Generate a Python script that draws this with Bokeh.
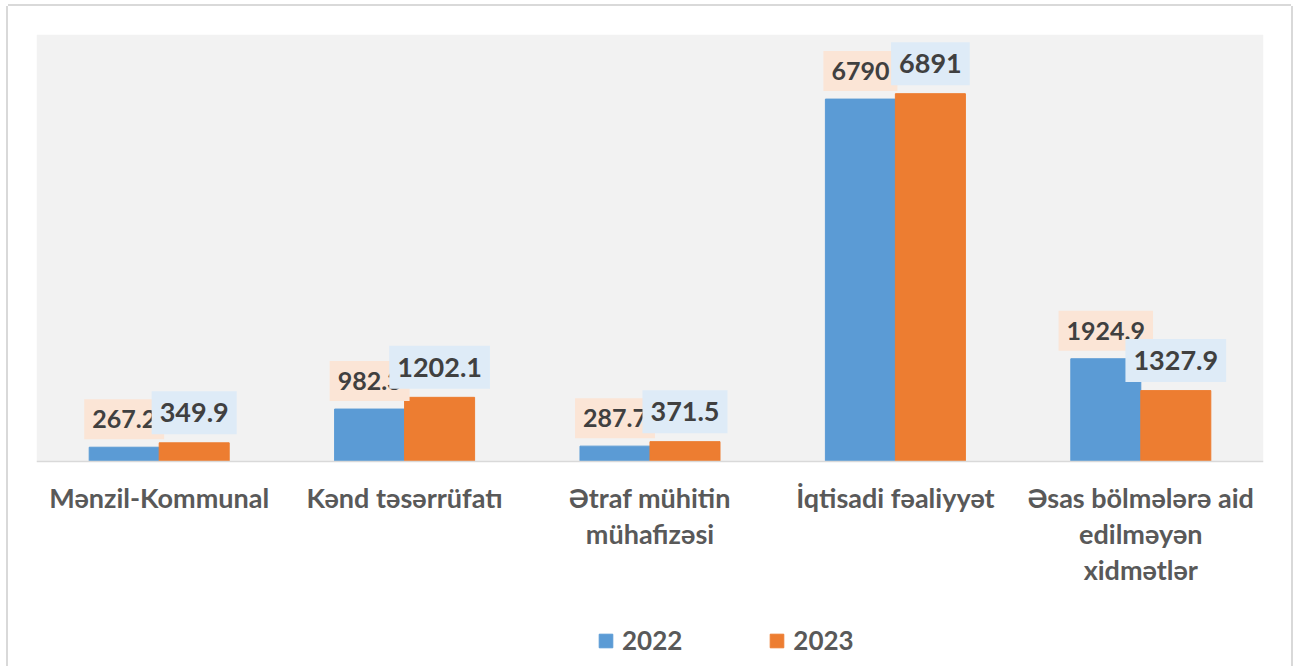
from bokeh.plotting import figure
from bokeh.models import (ColumnDataSource, FactorRange, Range1d, Legend, LegendItem,
                          BoxAnnotation)
from bokeh.core.properties import value
from bokeh.transform import dodge
from bokeh.embed import file_html
from bokeh.resources import INLINE

categories = ["Mənzil-Kommunal", "Kənd təsərrüfatı", "Ətraf mühitin\nmühafizəsi",
              "İqtisadi fəaliyyət", "Əsas bölmələrə aid\nedilməyən\nxidmətlər"]
years = ["2022", "2023"]
values_2022 = [267.2, 982.3, 287.7, 6790, 1924.9]
values_2023 = [349.9, 1202.1, 371.5, 6891, 1327.9]

BLUE = "#5B9BD5"
ORANGE = "#ED7D31"
FONT = "Lato"
EDGE = "#D9D9D9"
Y_MAX = 8000
Y_MIN = -3841  # room below zero for the category names and the legend

src = ColumnDataSource(dict(
    cat=categories,
    v22=values_2022,
    v23=values_2023,
    t22=[f"{v:g}" for v in values_2022],
    t23=[f"{v:g}" for v in values_2023],
))

p = figure(width=1283, height=660, x_range=FactorRange(factors=categories, range_padding=0),
           y_range=Range1d(Y_MIN, Y_MAX), output_backend="svg", toolbar_location=None,
           min_border_left=28, min_border_right=28, min_border_top=28, min_border_bottom=0)
p.background_fill_color = "white"
p.border_fill_color = "white"
p.outline_line_color = None
p.xgrid.grid_line_color = None
p.ygrid.grid_line_color = None
p.yaxis.visible = False

# grey plot area from 0 up to the axis maximum
p.add_layout(BoxAnnotation(bottom=0, top=Y_MAX, fill_color="#F2F2F2", fill_alpha=1,
                           line_color=None, level="underlay"))

bw = 0.2853
off = 0.1426
r22 = p.vbar(x=dodge("cat", -off, range=p.x_range), top="v22", width=bw, source=src,
             fill_color=BLUE, line_color=BLUE)
r23 = p.vbar(x=dodge("cat", off, range=p.x_range), top="v23", width=bw, source=src,
             fill_color=ORANGE, line_color=ORANGE)

p.text(x=dodge("cat", -off, range=p.x_range), y="v22", text="t22", source=src,
       text_align="center", text_baseline="middle", y_offset=-28,
       text_font=value(FONT), text_font_style="bold", text_font_size="25px",
       text_color="#404040", background_fill_color="#FBE5D6",
       padding=dict(left=8, right=8, top=11, bottom=11))
p.text(x=dodge("cat", off, range=p.x_range), y="v23", text="t23", source=src,
       text_align="center", text_baseline="middle", y_offset=-30,
       text_font=value(FONT), text_font_style="bold", text_font_size="27px",
       text_color="#404040", background_fill_color="#DEEBF7",
       padding=dict(left=8, right=8, top=12, bottom=12))

ax = p.xaxis[0]
ax.fixed_location = 0
ax.axis_line_color = EDGE
ax.axis_line_width = 1.5
ax.major_tick_line_color = None
ax.minor_tick_line_color = None
ax.major_label_standoff = 14
ax.major_label_text_font = FONT
ax.major_label_text_font_style = "bold"
ax.major_label_text_font_size = "27px"
ax.major_label_text_line_height = 1.09
ax.major_label_text_color = "#595959"

legend = Legend(items=[LegendItem(label=years[0], renderers=[r22]),
                       LegendItem(label=years[1], renderers=[r23])],
                orientation="horizontal", location=(561, 10),
                label_text_font=FONT, label_text_font_style="bold",
                label_text_font_size="26px", label_text_color="#595959",
                glyph_width=17, glyph_height=17, label_standoff=8, spacing=86,
                padding=0, margin=0,
                border_line_color=None, background_fill_alpha=0)
p.add_layout(legend)

p.styles = {"margin-left": "8px", "margin-top": "6px",
            "box-shadow": f"-2px 0 0 0 {EDGE}, 2px 0 0 0 {EDGE}, 0 -2px 0 0 {EDGE}"}

open("out.html", "w").write(file_html(p, INLINE))
